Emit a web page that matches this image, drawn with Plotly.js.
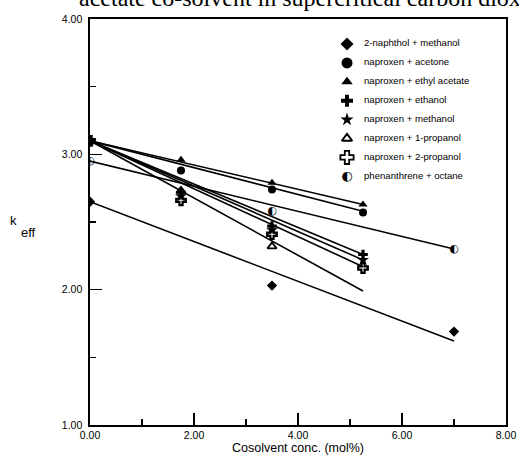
<!DOCTYPE html>
<html>
<head>
<meta charset="utf-8">
<script src="https://cdn.plot.ly/plotly-3.0.1.min.js"></script>
<style>html,body{margin:0;padding:0;background:#fff;}#plot{width:519px;height:463px;}</style>
</head>
<body>
<div id="plot"></div>
<script>
// ---- data ----
const seriesNames = [
  "2-naphthol + methanol",
  "naproxen + acetone",
  "naproxen + ethyl acetate",
  "naproxen + ethanol",
  "naproxen + methanol",
  "naproxen + 1-propanol",
  "naproxen + 2-propanol",
  "phenanthrene + octane"
];
const naphtholX = [0, 3.5, 7.0];
const naphtholY = [2.65, 2.03, 1.69];
const acetoneX = [0, 1.75, 3.5, 5.25];
const acetoneY = [3.10, 2.88, 2.74, 2.57];
const ethylAcetateX = [0, 1.75, 3.5, 5.25];
const ethylAcetateY = [3.10, 2.96, 2.79, 2.63];
const ethanolX = [0, 1.75, 3.5, 5.25];
const ethanolY = [3.10, 2.72, 2.47, 2.26];
const methanolX = [0, 1.75, 3.5, 5.25];
const methanolY = [3.10, 2.69, 2.44, 2.22];
const propanol1X = [0, 1.75, 3.5];
const propanol1Y = [3.10, 2.73, 2.32];
const propanol2X = [0, 1.75, 3.5, 5.25];
const propanol2Y = [3.10, 2.66, 2.41, 2.16];
const phenX = [0, 3.5, 7.0];
const phenY = [2.95, 2.58, 2.30];

// fitted straight lines (end points)
const fitNaphtholX = [0, 7.0],  fitNaphtholY = [2.65, 1.62];
const fitAcetoneX = [0, 5.25],  fitAcetoneY = [3.10, 2.58];
const fitEthylAcX = [0, 5.25],  fitEthylAcY = [3.10, 2.63];
const fitEthanolX = [0, 5.25],  fitEthanolY = [3.10, 2.26];
const fitMethanolX = [0, 5.25], fitMethanolY = [3.10, 2.22];
const fitProp1X = [0, 5.25],    fitProp1Y = [3.10, 1.99];
const fitProp2X = [0, 5.25],    fitProp2Y = [3.10, 2.17];
const fitPhenX = [0, 7.0],      fitPhenY = [2.95, 2.30];

const xTickVals = [0, 2, 4, 6, 8];
const xTickText = ["0.00", "2.00", "4.00", "6.00", "8.00"];
const yTickVals = [1, 2, 3, 4];
const yTickText = ["1.00", "2.00", "3.00", "4.00"];

// ---- styles ----
const K = "#000";
const HALF = "\u25D0";
const plotStyles = [
  {symbol: "diamond", size: 8},
  {symbol: "circle", size: 8},
  {symbol: "triangle-up", size: 8},
  {symbol: "cross", size: 8},
  {symbol: "star", size: 9},
  {symbol: "triangle-up-open", size: 8, lw: 1.8},
  {symbol: "cross-open", size: 8, lw: 2.2},
  null // half circle -> text glyph
];
const legStyles = [
  {symbol: "diamond", size: 10},
  {symbol: "circle", size: 11},
  {symbol: "triangle-up", size: 10},
  {symbol: "cross", size: 10},
  {symbol: "star", size: 10},
  {symbol: "triangle-up-open", size: 9, lw: 2},
  {symbol: "cross-open", size: 11, lw: 1.8},
  null
];

const fits = [
  [fitNaphtholX, fitNaphtholY], [fitAcetoneX, fitAcetoneY], [fitEthylAcX, fitEthylAcY],
  [fitEthanolX, fitEthanolY], [fitMethanolX, fitMethanolY], [fitProp1X, fitProp1Y],
  [fitProp2X, fitProp2Y], [fitPhenX, fitPhenY]
];
const pts = [
  [naphtholX, naphtholY], [acetoneX, acetoneY], [ethylAcetateX, ethylAcetateY],
  [ethanolX, ethanolY], [methanolX, methanolY], [propanol1X, propanol1Y],
  [propanol2X, propanol2Y], [phenX, phenY]
];

const traces = [];
fits.forEach(f => traces.push({
  x: f[0], y: f[1], mode: "lines", type: "scatter",
  line: {color: K, width: 1.6}, showlegend: false, hoverinfo: "skip"
}));
pts.forEach((p, i) => {
  const s = plotStyles[i];
  if (s) {
    traces.push({x: p[0], y: p[1], mode: "markers", type: "scatter", name: seriesNames[i],
      marker: {symbol: s.symbol, size: s.size, color: K, line: {color: K, width: s.lw || 0}},
      showlegend: false});
  } else {
    traces.push({x: p[0], y: p[1], mode: "text", type: "scatter", name: seriesNames[i],
      text: p[0].map(() => HALF), textposition: "middle center",
      textfont: {family: "DejaVu Sans", size: 11, color: K}, showlegend: false});
  }
});

// ---- custom legend drawn on an overlay axis measured in pixels ----
const legTop = 44, legGap = 18.9, legMarkX = 347, legTextX = 364;
const legY = seriesNames.map((_, i) => legTop + i * legGap);
seriesNames.forEach((n, i) => {
  const s = legStyles[i];
  if (s) {
    traces.push({x: [legMarkX], y: [legY[i]], xaxis: "x2", yaxis: "y2", mode: "markers", type: "scatter",
      marker: {symbol: s.symbol, size: s.size, color: K, line: {color: K, width: s.lw || 0}},
      showlegend: false, hoverinfo: "skip"});
  } else {
    traces.push({x: [legMarkX], y: [legY[i]], xaxis: "x2", yaxis: "y2", mode: "text", type: "scatter",
      text: [HALF], textposition: "middle center",
      textfont: {family: "DejaVu Sans", size: 13, color: K}, showlegend: false, hoverinfo: "skip"});
  }
});
traces.push({x: seriesNames.map(() => legTextX), y: legY, xaxis: "x2", yaxis: "y2",
  mode: "text", type: "scatter", text: seriesNames, textposition: "middle right",
  textfont: {family: "Liberation Sans", size: 9.6, color: K}, showlegend: false, hoverinfo: "skip"});

const tickFont = {family: "Liberation Sans", size: 10.5, color: K};

const layout = {
  width: 519, height: 463,
  margin: {l: 90, r: 13, t: 19, b: 38, pad: 0},
  paper_bgcolor: "#fff", plot_bgcolor: "#fff",
  showlegend: false,
  xaxis: {
    range: [0, 8], tickvals: xTickVals, ticktext: xTickText,
    ticks: "inside", ticklen: 12, tickwidth: 1.5, tickcolor: K,
    minor: {dtick: 1, tick0: 0, ticks: "inside", ticklen: 6, tickwidth: 1.2, tickcolor: K},
    showline: true, linecolor: K, linewidth: 1.6, mirror: true,
    showgrid: false, zeroline: false, tickfont: tickFont,
    title: {text: "Cosolvent conc. (mol%)", font: {family: "Liberation Sans", size: 12.5, color: K}, standoff: 3}
  },
  yaxis: {
    range: [1, 4], tickvals: yTickVals, ticktext: yTickText,
    ticks: "inside", ticklen: 12, tickwidth: 1.5, tickcolor: K,
    minor: {dtick: 0.5, tick0: 1, ticks: "inside", ticklen: 6, tickwidth: 1.2, tickcolor: K},
    showline: true, linecolor: K, linewidth: 1.6, mirror: true,
    showgrid: false, zeroline: false, tickfont: tickFont, ticklabelstandoff: 4
  },
  xaxis2: {overlaying: "x", anchor: "y2", range: [90, 506], visible: false, fixedrange: true},
  yaxis2: {overlaying: "y", anchor: "x2", range: [425, 19], visible: false, fixedrange: true},
  annotations: [
    {text: "acetate co-solvent in supercritical carbon dioxide", xref: "paper", yref: "paper",
     x: -0.031, y: 1.015, xanchor: "left", yanchor: "bottom", showarrow: false,
     font: {family: "Liberation Serif", size: 24, color: K}},
    {text: "k", xref: "paper", yref: "paper", x: -0.196, y: 0.503, xanchor: "left", yanchor: "middle",
     showarrow: false, font: {family: "Liberation Sans", size: 13, color: K}},
    {text: "eff", xref: "paper", yref: "paper", x: -0.17, y: 0.474, xanchor: "left", yanchor: "middle",
     showarrow: false, font: {family: "Liberation Sans", size: 13, color: K}}
  ]
};

Plotly.newPlot("plot", traces, layout, {staticPlot: true, displayModeBar: false});
</script>
</body>
</html>
